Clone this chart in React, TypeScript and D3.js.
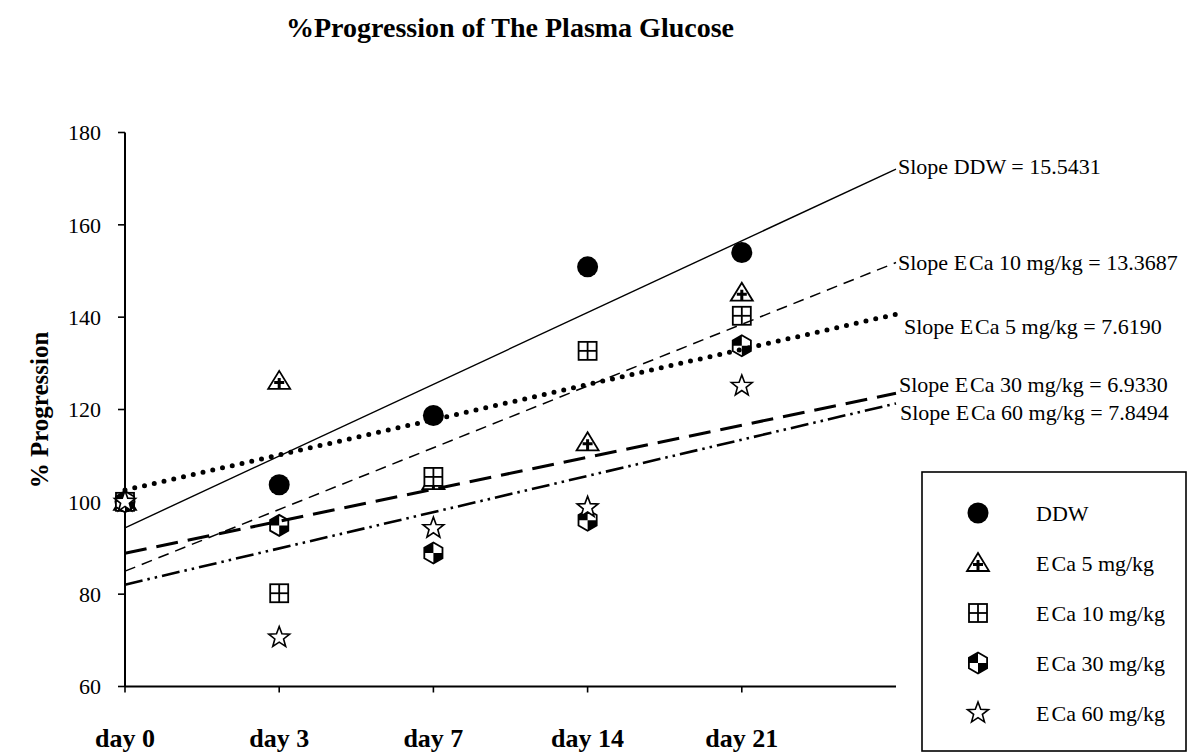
import React from 'react';
import * as d3 from 'd3';

// Sampling days (category axis)
const categories = ['day 0', 'day 3', 'day 7', 'day 14', 'day 21'];

// % progression of plasma glucose per group
const seriesNames = ['DDW', 'ECa 5 mg/kg', 'ECa 10 mg/kg', 'ECa 30 mg/kg', 'ECa 60 mg/kg'];
const ddw = [100, 103.7, 118.7, 150.9, 154.0];
const eca5 = [100, 126.2, 104.5, 112.9, 145.3];
const eca10 = [100, 80.2, 105.4, 132.7, 140.3];
const eca30 = [100, 94.9, 88.9, 96.0, 133.8];
const eca60 = [100, 70.6, 94.3, 98.8, 125.1];

// Linear trend slopes as reported in the labels
const slopes = [15.5431, 7.619, 13.3687, 6.933, 7.8494];
const slopeText = ['15.5431', '7.6190', '13.3687', '6.9330', '7.8494'];

const yTicks = [60, 80, 100, 120, 140, 160, 180];

const W = 1188;
const H = 754;
const FONT = '"Liberation Serif", "Times New Roman", Times, serif';

type MarkerKind = 'circle' | 'triangle' | 'square' | 'hexagon' | 'star';

const series = [
  { name: seriesNames[0], values: ddw, slope: slopes[0], label: slopeText[0], marker: 'circle' as MarkerKind,
    stroke: { width: 1.4, dash: '', cap: 'butt' }, lab: { dx: 2, dy: -3 } },
  { name: seriesNames[1], values: eca5, slope: slopes[1], label: slopeText[1], marker: 'triangle' as MarkerKind,
    stroke: { width: 5, dash: '0 10', cap: 'round' }, lab: { dx: 8, dy: 12 } },
  { name: seriesNames[2], values: eca10, slope: slopes[2], label: slopeText[2], marker: 'square' as MarkerKind,
    stroke: { width: 1.5, dash: '11 7', cap: 'butt' }, lab: { dx: 2, dy: 0 } },
  { name: seriesNames[3], values: eca30, slope: slopes[3], label: slopeText[3], marker: 'hexagon' as MarkerKind,
    stroke: { width: 3, dash: '22 10', cap: 'butt' }, lab: { dx: 3, dy: -9 } },
  { name: seriesNames[4], values: eca60, slope: slopes[4], label: slopeText[4], marker: 'star' as MarkerKind,
    stroke: { width: 2.6, dash: '18 5 2.5 5 2.5 5', cap: 'butt' }, lab: { dx: 4, dy: 9 } },
];

// Group names are set with a little extra room after the "E"
function GroupName({ name }: { name: string }) {
  if (name.startsWith('ECa')) {
    return (
      <>
        <tspan>E</tspan>
        <tspan dx={2}>{name.slice(1)}</tspan>
      </>
    );
  }
  return <tspan>{name}</tspan>;
}

function Marker({ kind, x, y }: { kind: MarkerKind; x: number; y: number }) {
  const t = `translate(${x},${y})`;
  if (kind === 'circle') {
    return <circle cx={x} cy={y} r={10.5} fill="#000" />;
  }
  if (kind === 'triangle') {
    return (
      <g transform={t}>
        <path d="M0,-10 L11,8 L-11,8 Z" fill="#fff" stroke="#000" strokeWidth={1.8} strokeLinejoin="miter" />
        <path d="M-1.5,-3 h3 v3 h3.5 v3 h-3.5 v5 h-3 v-5 h-3.5 v-3 h3.5 Z" fill="#000" />
      </g>
    );
  }
  if (kind === 'square') {
    return (
      <g transform={t}>
        <rect x={-9} y={-9} width={18} height={18} fill="#fff" stroke="#000" strokeWidth={1.8} />
        <line x1={0} y1={-9} x2={0} y2={9} stroke="#000" strokeWidth={1.8} />
        <line x1={-9} y1={0} x2={9} y2={0} stroke="#000" strokeWidth={1.8} />
      </g>
    );
  }
  if (kind === 'hexagon') {
    const r = 10.5;
    const pts = d3.range(6).map((i) => {
      const a = -Math.PI / 2 + (i * Math.PI) / 3;
      return [r * Math.cos(a), r * Math.sin(a)];
    });
    const hex = 'M' + pts.map((p) => p.join(',')).join('L') + 'Z';
    const cx = r * Math.cos(Math.PI / 6);
    return (
      <g transform={t}>
        <path d={hex} fill="#fff" stroke="#000" strokeWidth={1.8} />
        <path d={`M0,0 L0,${-r} L${-cx},${-r / 2} L${-cx},0 Z`} fill="#000" />
        <path d={`M0,0 L0,${r} L${cx},${r / 2} L${cx},0 Z`} fill="#000" />
      </g>
    );
  }
  // five-pointed star
  const outer = 11;
  const inner = 4.6;
  const pts = d3.range(10).map((i) => {
    const rr = i % 2 === 0 ? outer : inner;
    const a = -Math.PI / 2 + (i * Math.PI) / 5;
    return [rr * Math.cos(a), rr * Math.sin(a)];
  });
  return (
    <path transform={t} d={'M' + pts.map((p) => p.join(',')).join('L') + 'Z'}
      fill="#fff" stroke="#000" strokeWidth={1.6} strokeLinejoin="miter" />
  );
}

export default function App() {
  // Category positions 0..4, with the axis extended one period for the trend forecast
  const x = d3.scaleLinear().domain([0, categories.length]).range([125, 896]);
  const y = d3.scaleLinear().domain([60, 180]).range([686.5, 132.5]);

  const trend = (vals: number[], slope: number) => {
    const xs = vals.map((_, i) => i);
    const mx = d3.mean(xs) as number;
    const my = d3.mean(vals) as number;
    const f = (xi: number) => my + slope * (xi - mx);
    return [[0, f(0)], [categories.length, f(categories.length)]] as [number, number][];
  };
  const line = d3.line<[number, number]>().x((d) => x(d[0])).y((d) => y(d[1]));

  const legendX = 922;
  const legendY = 472;

  return (
    <svg width={W} height={H} style={{ position: 'absolute', left: 0, top: 0, background: '#fff' }}
      fontFamily={FONT}>
      <rect width={W} height={H} fill="#fff" />

      <text x={510} y={37} textAnchor="middle" fontSize={28} fontWeight="bold">
        %Progression of The Plasma Glucose
      </text>

      {/* y axis */}
      <line x1={x(0)} y1={y(180)} x2={x(0)} y2={y(60)} stroke="#000" strokeWidth={2} />
      {yTicks.map((v) => (
        <g key={v}>
          <line x1={x(0) - 7} x2={x(0)} y1={y(v)} y2={y(v)} stroke="#000" strokeWidth={1.6} />
          <text x={101} y={y(v)} dy="0.35em" textAnchor="end" fontSize={22}>{v}</text>
        </g>
      ))}
      <text transform={`translate(48,410) rotate(-90)`} textAnchor="middle" fontSize={25} fontWeight="bold">
        % Progression
      </text>

      {/* x axis */}
      <line x1={x(0)} y1={y(60)} x2={x(categories.length)} y2={y(60)} stroke="#000" strokeWidth={2} />
      {categories.map((c, i) => (
        <g key={c}>
          <line x1={x(i)} x2={x(i)} y1={y(60)} y2={y(60) + 6} stroke="#000" strokeWidth={1.6} />
          <text x={x(i)} y={747} textAnchor="middle" fontSize={26} fontWeight="bold">{c}</text>
        </g>
      ))}

      {/* markers */}
      {series.map((s) => (
        <g key={s.name}>
          {s.values.map((v, i) => (
            <Marker key={i} kind={s.marker} x={x(i)} y={y(v)} />
          ))}
        </g>
      ))}

      {/* linear trend lines with slope labels */}
      {series.map((s) => {
        const pts = trend(s.values, s.slope);
        const end = pts[1];
        return (
          <g key={s.name + '-trend'}>
            <path d={line(pts) as string} fill="none" stroke="#000" strokeWidth={s.stroke.width}
              strokeDasharray={s.stroke.dash || undefined} strokeLinecap={s.stroke.cap as any} />
            <text x={x(end[0]) + s.lab.dx} y={y(end[1]) + s.lab.dy} dy="0.35em" fontSize={22}>
              <tspan>Slope </tspan>
              <GroupName name={s.name} />
              <tspan>{` = ${s.label}`}</tspan>
            </text>
          </g>
        );
      })}

      {/* legend */}
      <rect x={legendX} y={legendY} width={264} height={279} fill="#fff" stroke="#000" strokeWidth={1.6} />
      {series.map((s, i) => (
        <g key={s.name + '-legend'}>
          <Marker kind={s.marker} x={978} y={513 + i * 50} />
          <text x={1036} y={513 + i * 50} dy="0.35em" fontSize={22}>
            <GroupName name={s.name} />
          </text>
        </g>
      ))}
    </svg>
  );
}
